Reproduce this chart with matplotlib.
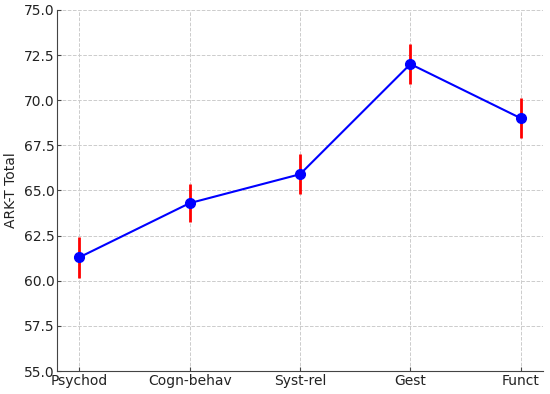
import numpy as np
import matplotlib
matplotlib.use("Agg")
import matplotlib.pyplot as plt

# data
categories = ["Psychod", "Cogn-behav", "Syst-rel", "Gest", "Funct"]
means = [61.3, 64.3, 65.9, 72.0, 69.0]
errors = [1.15, 1.05, 1.1, 1.1, 1.1]

fig = plt.figure(figsize=(5.5, 3.94), dpi=100)
ax = fig.add_axes([0.104, 0.058, 0.883, 0.917])

x = np.arange(len(categories))
ax.errorbar(x, means, yerr=errors, fmt="-o", color="blue", ecolor="red",
            elinewidth=2, capsize=0, markersize=7, linewidth=1.5, zorder=3)

ax.set_ylim(55, 75)
ax.set_yticks(np.arange(55, 75.1, 2.5))
ax.set_xticks(x)
ax.set_xticklabels(categories)
ax.set_ylabel("ARK-T Total", color="#222222", labelpad=4)
ax.tick_params(direction="in", length=3, pad=2, labelsize=10, labelcolor="#222222", color="#444444")
ax.grid(True, linestyle="--", color="#cccccc", linewidth=0.7)
ax.set_axisbelow(True)
for s in ["top", "right"]:
    ax.spines[s].set_visible(False)
for s in ["left", "bottom"]:
    ax.spines[s].set_color("#444444")

fig.savefig("out.png", dpi=100)
